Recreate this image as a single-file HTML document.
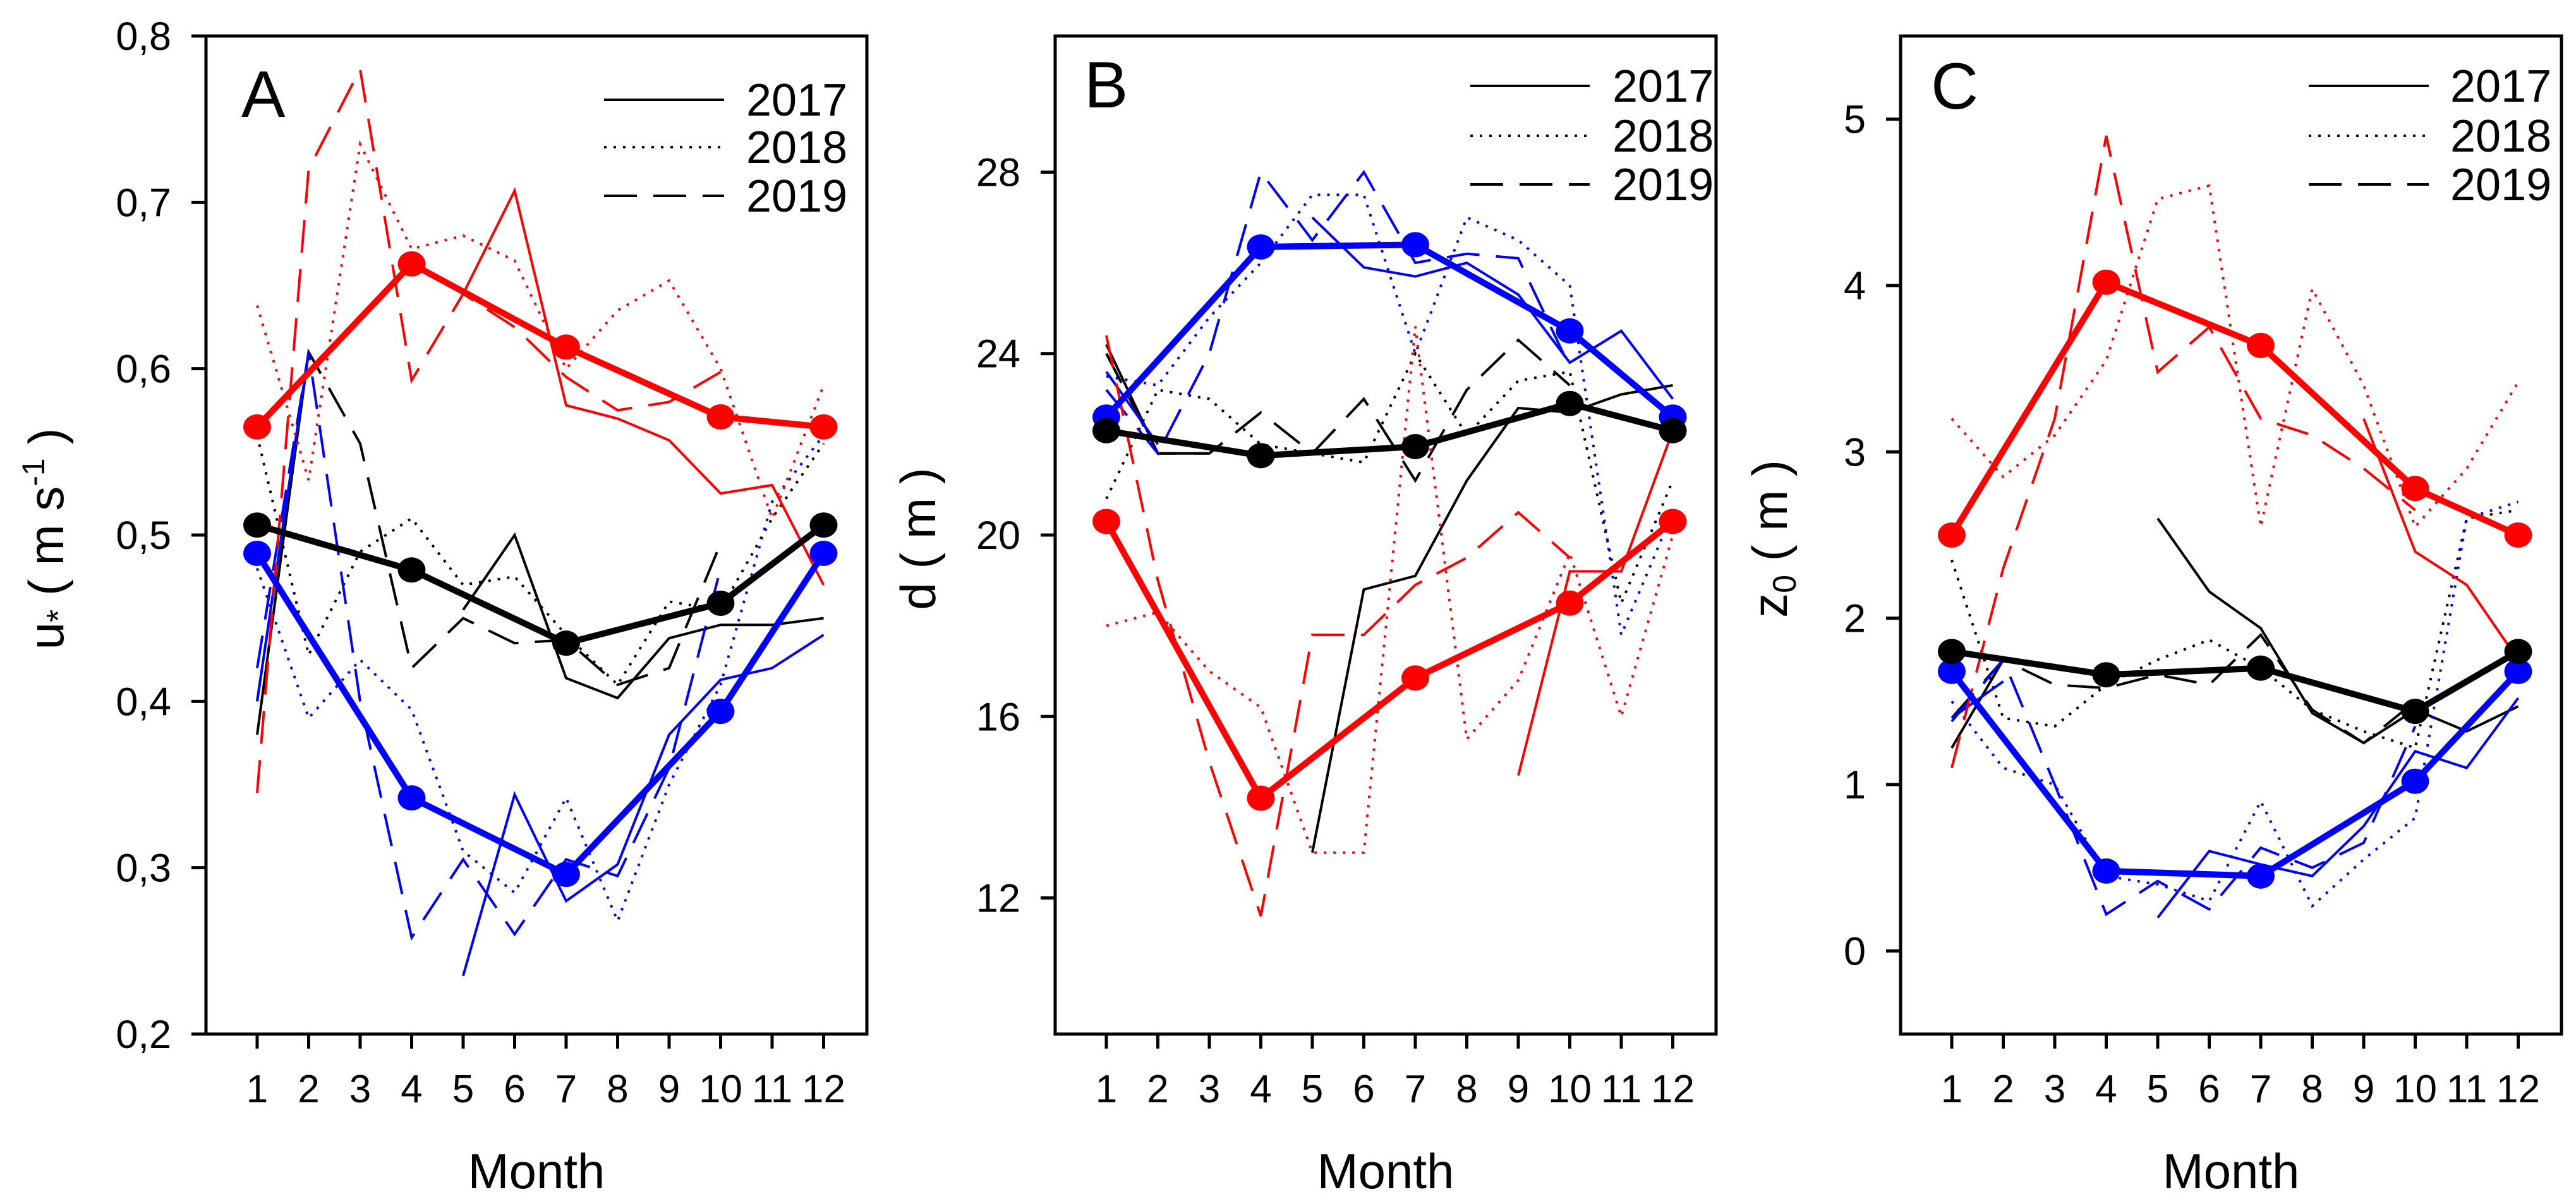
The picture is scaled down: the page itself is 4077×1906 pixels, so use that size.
<!DOCTYPE html>
<html><head><meta charset="utf-8"><title>Monthly u*, d, z0</title>
<style>
html,body{margin:0;padding:0;background:#fff;}
svg{display:block;font-family:"Liberation Sans",Arial,sans-serif;}
</style></head>
<body>
<svg id="chart" width="4077" height="1906" viewBox="0 0 4077 1906" xmlns="http://www.w3.org/2000/svg"></svg>
<script>
const months = [1,2,3,4,5,6,7,8,9,10,11,12];
const meanMonths = [1,4,7,10,12];
const N = null;
// Panel A: u*
const aTicks = [0.2,0.3,0.4,0.5,0.6,0.7,0.8];
const aTickLabels = ["0,2","0,3","0,4","0,5","0,6","0,7","0,8"];
const aMeanRed = [0.565,0.663,0.613,0.571,0.565];
const aMeanBlack = [0.506,0.479,0.435,0.459,0.506];
const aMeanBlue = [0.489,0.342,0.296,0.394,0.489];
const aRed2017 = [N,N,N,N,0.645,0.707,0.578,0.570,0.557,0.525,0.530,0.470];
const aRed2018 = [0.638,0.533,0.735,0.672,0.680,0.665,0.600,0.635,0.653,0.600,0.510,0.590];
const aRed2019 = [0.345,0.720,0.780,0.593,0.645,0.625,0.595,0.575,0.580,0.598,N,N];
const aBlack2017 = [0.380,0.610,N,N,0.455,0.500,0.414,0.402,0.438,0.446,0.446,0.450];
const aBlack2018 = [0.560,0.428,0.490,0.510,0.470,0.475,0.440,0.410,0.460,0.455,0.510,0.555];
const aBlack2019 = [0.400,0.610,0.555,0.420,0.450,0.435,0.437,0.410,0.420,0.495,N,N];
const aBlue2017 = [0.400,0.610,N,N,0.235,0.344,0.280,0.302,0.380,0.413,0.420,0.440];
const aBlue2018 = [0.480,0.390,0.425,0.395,0.310,0.285,0.342,0.268,0.350,0.410,0.520,0.560];
const aBlue2019 = [0.420,0.610,0.400,0.258,0.305,0.260,0.305,0.295,0.360,0.480,N,N];
// Panel B: d
const bTicks = [12,16,20,24,28];
const bTickLabels = ["12","16","20","24","28"];
const bMeanRed = [20.3,14.2,16.85,18.5,20.3];
const bMeanBlack = [22.3,21.75,21.95,22.9,22.3];
const bMeanBlue = [22.6,26.35,26.4,24.5,22.6];
const bRed2017 = [N,N,N,N,N,N,N,N,14.7,19.2,19.2,22.3];
const bRed2018 = [18.0,18.3,17.0,16.2,13.0,13.0,24.6,15.5,16.8,19.6,16.0,20.0];
const bRed2019 = [24.4,19.0,15.0,11.6,17.8,17.8,18.9,19.5,20.5,19.5,N,N];
const bBlack2017 = [24.2,21.8,21.8,N,13.0,18.8,19.1,21.2,22.8,22.7,23.1,23.3];
const bBlack2018 = [20.8,23.2,23.0,22.0,21.8,21.6,24.0,22.2,23.4,23.6,18.5,21.2];
const bBlack2019 = [24.0,21.8,21.8,22.7,21.8,23.0,21.2,23.2,24.3,23.3,N,N];
const bBlue2017 = [23.6,22.0,N,N,27.0,25.9,25.7,26.0,25.3,23.8,24.5,23.0];
const bBlue2018 = [23.5,23.3,24.8,26.0,27.5,27.5,24.0,27.0,26.5,25.5,17.8,20.5];
const bBlue2019 = [23.2,21.8,24.0,28.0,26.5,28.0,26.0,26.2,26.1,23.7,N,N];
// Panel C: z0
const cTicks = [0,1,2,3,4,5];
const cTickLabels = ["0","1","2","3","4","5"];
const cMeanRed = [2.5,4.02,3.64,2.78,2.5];
const cMeanBlack = [1.8,1.66,1.7,1.44,1.8];
const cMeanBlue = [1.68,0.48,0.45,1.02,1.68];
const cRed2017 = [N,N,N,N,N,N,N,N,3.2,2.4,2.2,1.75];
const cRed2018 = [3.2,2.85,3.1,3.55,4.52,4.6,2.55,3.98,3.4,2.55,2.9,3.42];
const cRed2019 = [1.1,2.3,3.2,4.9,3.48,3.75,3.2,3.1,2.9,2.65,N,N];
const cBlack2017 = [1.22,1.75,N,N,2.6,2.16,1.94,1.43,1.25,1.45,1.32,1.47];
const cBlack2018 = [2.35,1.4,1.35,1.6,1.75,1.87,1.7,1.45,1.32,1.22,2.6,2.65];
const cBlack2019 = [1.4,1.75,1.6,1.58,1.66,1.6,1.9,1.45,1.25,1.5,N,N];
const cBlue2017 = [1.4,1.62,N,N,0.2,0.6,0.52,0.45,0.75,1.2,1.1,1.52];
const cBlue2018 = [1.5,1.1,1.0,0.45,0.4,0.3,0.9,0.27,0.55,0.8,2.6,2.7];
const cBlue2019 = [1.38,1.75,1.0,0.22,0.42,0.25,0.62,0.5,0.65,1.35,N,N];
const legendYears = ["2017","2018","2019"];

const svg = document.getElementById('chart');
const NS = 'http://www.w3.org/2000/svg';
function mk(tag, attrs, parent){
  const e = document.createElementNS(NS, tag);
  for (const k in attrs) e.setAttribute(k, attrs[k]);
  (parent||svg).appendChild(e);
  return e;
}
const TOP = 57, BOT = 1637, W = 1046;
const DASH = {"2017":"none","2018":"4 11","2019":"52 26"};

function panel(cfg){
  const L = cfg.left;
  const g = mk('g', {});
  
  
  const xS = m => L + 81 + (m-1)*81.5;
  const yS = v => BOT - (v - cfg.ymin)/(cfg.ymax - cfg.ymin)*(BOT-TOP);
  const fr = mk('rect', {x:L, y:TOP, width:W, height:BOT-TOP, fill:'none', stroke:'#000', 'stroke-width':5}, g);
  
  
  cfg.ticks.forEach((t,i)=>{
    const y = yS(t);
    const tk = mk('line', {x1:L-23, x2:L, y1:y, y2:y, stroke:'#000', 'stroke-width':5}, g);
    
    
    const tl = mk('text', {x:L-55, y:y+22, 'text-anchor':'end', 'font-size':63, fill:'#000'}, g);
    
    
    tl.textContent = cfg.tickLabels[i];
  });
  months.forEach(m=>{
    const x = xS(m);
    const tk = mk('line', {x1:x, x2:x, y1:BOT, y2:BOT+23, stroke:'#000', 'stroke-width':5}, g);
    
    
    const tl = mk('text', {x:x, y:1745, 'text-anchor':'middle', 'font-size':62, fill:'#000'}, g);
    
    
    tl.textContent = String(m);
  });
  const xt = mk('text', {x:L+W/2, y:1881, 'text-anchor':'middle', 'font-size':78, fill:'#000'}, g);
  
  
  xt.textContent = 'Month';
  const yt = mk('text', {x:0, y:0, 'text-anchor':'middle', 'font-size':78, fill:'#000', transform:`translate(${cfg.ytx},${cfg.yty}) rotate(-90)`}, g);
  
  
  yt.innerHTML = cfg.ytitle;
  const pl = mk('text', {x:L+cfg.letterX, y:cfg.letterY, 'font-size':104, fill:'#000'}, g);
  
  
  pl.textContent = cfg.letter;
  legendYears.forEach((yr,i)=>{
    const y = cfg.legY[i];
    const ll = mk('line', {x1:L+cfg.legX1, x2:L+cfg.legX2, y1:y, y2:y, stroke:'#000', 'stroke-width':4}, g);
    if (DASH[yr] !== 'none') ll.setAttribute('stroke-dasharray', DASH[yr]);
    
    
    const lt = mk('text', {x:L+cfg.legT, y:y+25, 'font-size':72, fill:'#000'}, g);
    
    
    lt.textContent = yr;
  });
  cfg.thin.forEach(s=>{
    let segs = [], cur = [];
    s.vals.forEach((v,i)=>{
      if (v === null){ if (cur.length) segs.push(cur); cur = []; }
      else cur.push([xS(months[i]), yS(v)]);
    });
    if (cur.length) segs.push(cur);
    segs.forEach(seg=>{
      if (seg.length < 2) return;
      const p = mk('polyline', {points: seg.map(q=>q.join(',')).join(' '), fill:'none', stroke:s.color, 'stroke-width':4}, g);
      if (DASH[s.year] !== 'none') p.setAttribute('stroke-dasharray', DASH[s.year]);
      
      
    });
  });
  cfg.means.forEach(s=>{
    const pts = s.vals.map((v,i)=>[xS(meanMonths[i]), yS(v)]);
    const p = mk('polyline', {points: pts.map(q=>q.join(',')).join(' '), fill:'none', stroke:s.color, 'stroke-width':10}, g);
    
    
  });
  cfg.means.forEach(s=>{
    s.vals.forEach((v,i)=>{
      const c = mk('ellipse', {cx:xS(meanMonths[i]), cy:yS(v), rx:22, ry:20, fill:s.color}, g);
      
      
    });
  });
}

const RED='#ff0000', BLK='#000000', BLU='#0000ff';
function thinSet(r7,r8,r9,k7,k8,k9,b7,b8,b9){
  return [
    {vals:k7,color:BLK,year:"2017",cname:'black'},{vals:k8,color:BLK,year:"2018",cname:'black'},{vals:k9,color:BLK,year:"2019",cname:'black'},
    {vals:b7,color:BLU,year:"2017",cname:'blue'},{vals:b8,color:BLU,year:"2018",cname:'blue'},{vals:b9,color:BLU,year:"2019",cname:'blue'},
    {vals:r7,color:RED,year:"2017",cname:'red'},{vals:r8,color:RED,year:"2018",cname:'red'},{vals:r9,color:RED,year:"2019",cname:'red'}
  ];
}
function meanSet(r,k,b){
  return [{vals:r,color:RED,cname:'red'},{vals:b,color:BLU,cname:'blue'},{vals:k,color:BLK,cname:'black'}];
}

panel({name:'panel-a-ustar', left:326, ymin:0.2, ymax:0.8, ticks:aTicks, tickLabels:aTickLabels,
  ytx:100, yty:853, ytitle:'u<tspan font-size="52" dy="10">*</tspan><tspan dy="-10"> ( m s</tspan><tspan font-size="50" dy="-30">-1</tspan><tspan dy="30"> )</tspan>',
  letter:'A', letterX:56, letterY:185, legX1:630, legX2:820, legT:855, legY:[158,233,310],
  thin:thinSet(aRed2017,aRed2018,aRed2019,aBlack2017,aBlack2018,aBlack2019,aBlue2017,aBlue2018,aBlue2019),
  means:meanSet(aMeanRed,aMeanBlack,aMeanBlue)});
panel({name:'panel-b-displacement', left:1670, ymin:9, ymax:31, ticks:bTicks, tickLabels:bTickLabels,
  ytx:1480, yty:853, ytitle:'d ( m )',
  letter:'B', letterX:46, letterY:170, legX1:657, legX2:846, legT:882, legY:[136,215,292],
  thin:thinSet(bRed2017,bRed2018,bRed2019,bBlack2017,bBlack2018,bBlack2019,bBlue2017,bBlue2018,bBlue2019),
  means:meanSet(bMeanRed,bMeanBlack,bMeanBlue)});
panel({name:'panel-c-roughness', left:3008, ymin:-0.5, ymax:5.5, ticks:cTicks, tickLabels:cTickLabels,
  ytx:2828, yty:853, ytitle:'z<tspan font-size="52" dy="14">0</tspan><tspan dy="-14"> ( m )</tspan>',
  letter:'C', letterX:48, letterY:172, legX1:646, legX2:836, legT:870, legY:[136,215,292],
  thin:thinSet(cRed2017,cRed2018,cRed2019,cBlack2017,cBlack2018,cBlack2019,cBlue2017,cBlue2018,cBlue2019),
  means:meanSet(cMeanRed,cMeanBlack,cMeanBlue)});
</script>
</body></html>
